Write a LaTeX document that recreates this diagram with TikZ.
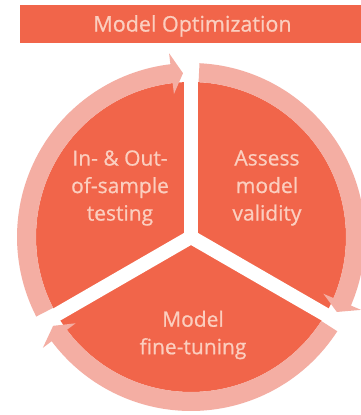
\documentclass[tikz,border=0pt]{standalone}
\usepackage{fontspec}
\setmainfont{Open Sans}[FakeBold=0.8]
\definecolor{pieorange}{RGB}{241,101,74}
\definecolor{ringpink}{RGB}{244,174,163}
\definecolor{txtpink}{RGB}{251,206,191}
\tikzset{
  lbl/.style={text=txtpink, align=center, font=\fontsize{21}{27.5}\selectfont},
  sep/.style={draw=white, line width=14pt},
  ringarrow/.style={fill=ringpink, draw=none}
}
\newcommand{\cyclearrow}[3]{%
  \fill[ringarrow] (#1:174pt) arc[start angle=#1, end angle=#2, radius=174pt]
    -- (#2:185pt) -- (#3:164pt) -- (#2:144pt) -- (#2:155pt)
    arc[start angle=#2, end angle=#1, radius=155pt] -- cycle;}
\begin{document}
\begin{tikzpicture}[x=1pt,y=1pt]
\useasboundingbox (0,0) rectangle (361,415);
\clip (0,0) rectangle (361,415);
\fill[white] (0,0) rectangle (361,415);
% banner
\node[fill=pieorange, minimum width=341pt, minimum height=38pt, inner sep=0pt] (banner) at (190.5,391) {};
\node[lbl, font=\fontsize{21.5}{24}\selectfont] (title) at (192.5,389) {Model Optimization};
% pie
\coordinate (c) at (191,178);
\fill[pieorange] (c) circle[radius=155pt];
\begin{scope}[shift={(c)}]
  \cyclearrow{207.2}{96.8}{92.8}
  \cyclearrow{87.2}{-23.2}{-27.2}
  \cyclearrow{-32.8}{-143.2}{-147.2}
  \coordinate (e1) at (90:190pt);
  \coordinate (e2) at (-30:195pt);
  \coordinate (e3) at (210:195pt);
\end{scope}
\draw[sep] (c) -- (e1);
\draw[sep] (c) -- (e2);
\draw[sep] (c) -- (e3);
\fill[white] (c) circle[radius=7pt];
% labels
\node[lbl] (t1) at (120,227) {In- \& Out-\\of-sample\\testing};
\node[lbl] (t2) at (267,227) {Assess\\model\\validity};
\node[lbl] (t3) at (193,80) {Model\\fine-tuning};
\end{tikzpicture}
\end{document}
